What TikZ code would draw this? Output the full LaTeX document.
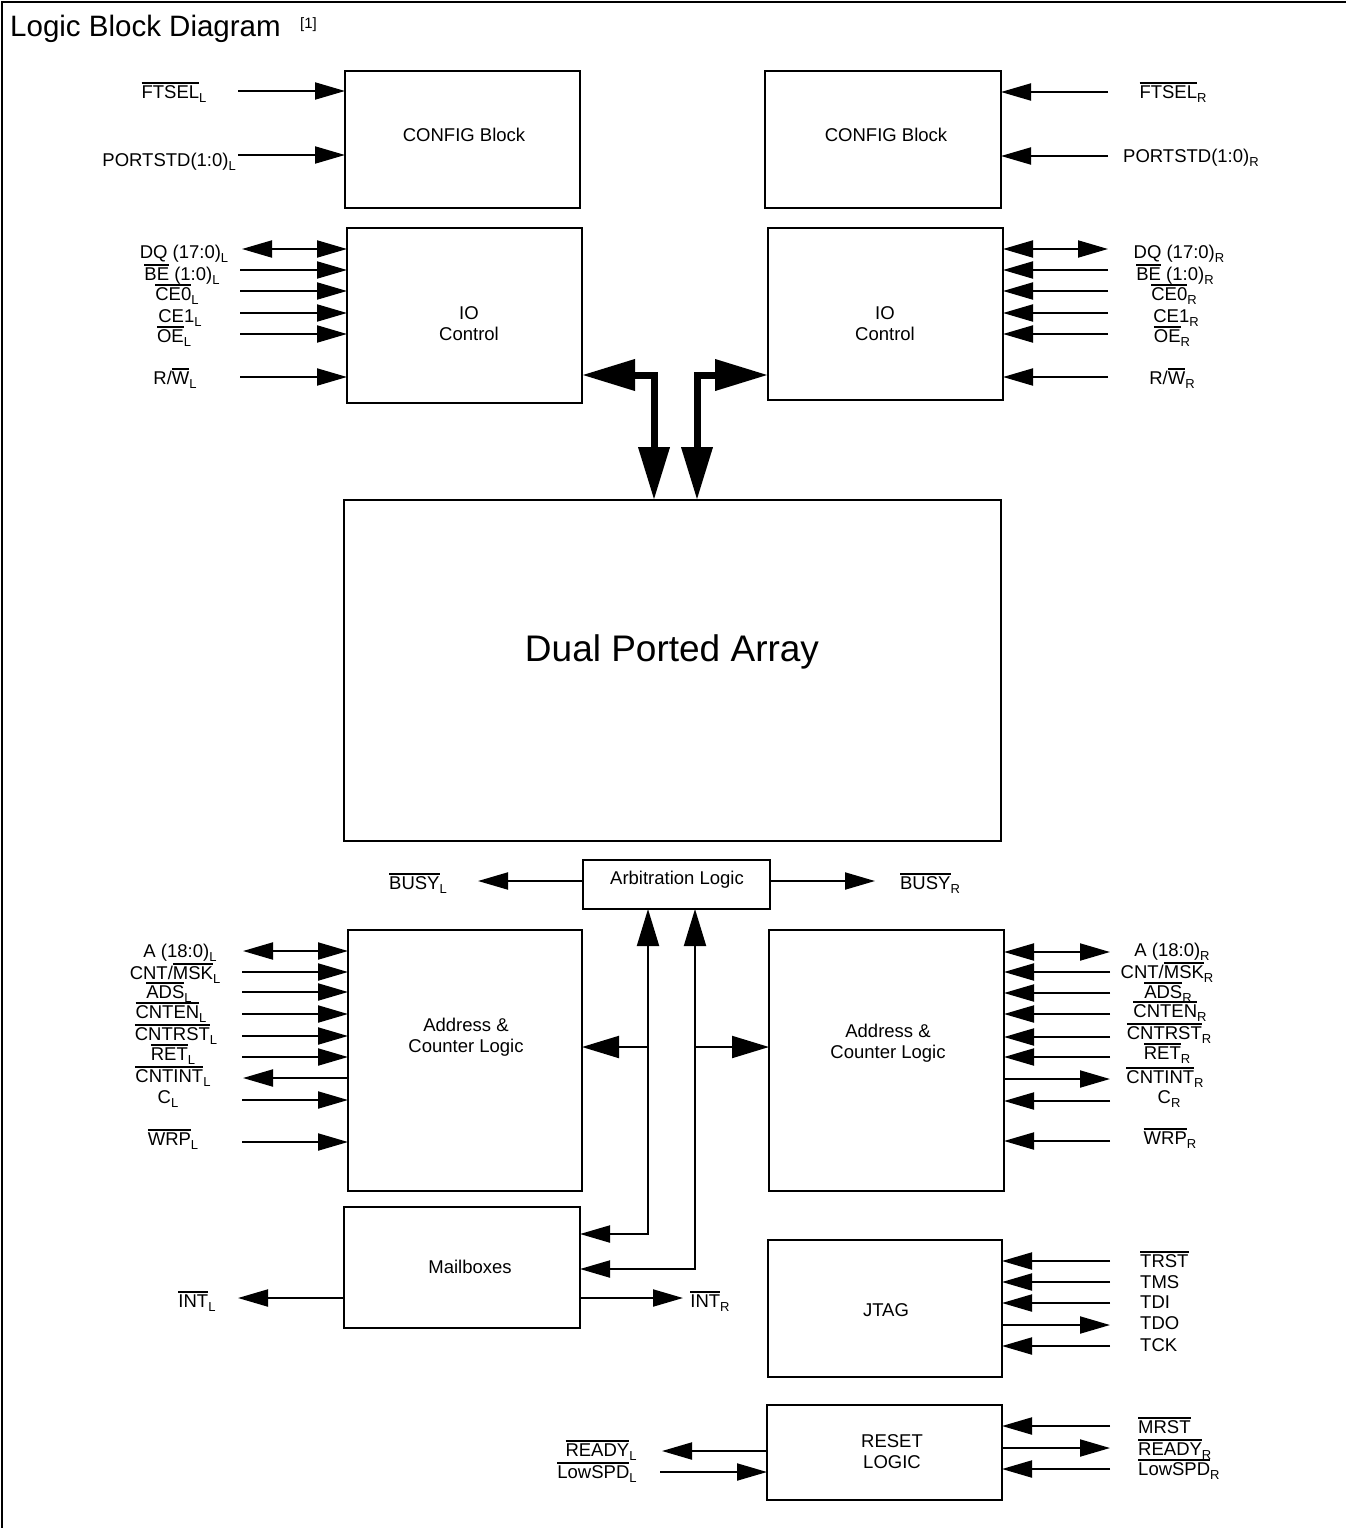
\documentclass[tikz,border=0pt]{standalone}
\usepackage{fontspec}
\setmainfont{Liberation Sans}
\usetikzlibrary{arrows.meta}
\newcommand\ob[1]{\vbox{\hrule height1.4pt\kern1.4pt\hbox{#1}}}
\newcommand\sbs[1]{\raisebox{-4pt}{\fontsize{13}{13}\selectfont #1}}
\tikzset{
  box/.style={draw, line width=2pt, inner sep=0pt, outer sep=0pt},
  lbl/.style={font=\fontsize{18.5}{21}\selectfont, inner sep=0pt, anchor=base},
  lblw/.style={lbl, anchor=base west},
  lble/.style={lbl, anchor=base east},
  btxt/.style={font=\fontsize{18.5}{21}\selectfont, inner sep=0pt, align=center},
  pin/.style={line width=2pt},
  hd/.tip={Triangle[length=30pt,width=17pt]},
  bighd/.tip={Triangle[length=53pt,width=30pt]},
  midhd/.tip={Triangle[length=37pt,width=22pt]},
  thickarrow/.style={line width=7pt, line join=miter, bighd-bighd},
}
\begin{document}
\begin{tikzpicture}[x=1pt,y=-1pt]
\useasboundingbox (0,0) rectangle (1346,1528);
% frame
\draw[line width=2pt] (2,1528) -- (2,2) -- (1346,2);
\node[font=\fontsize{29.5}{32}\selectfont, inner sep=0pt, anchor=base west] (title) at (10,37) {Logic Block Diagram};
\node[font=\fontsize{15}{16}\selectfont, inner sep=0pt, anchor=base west] (ref) at (300,29) {[1]};

% boxes
\node[box, minimum width=235pt, minimum height=137pt] (cfgL) at (462.5,139.5) {};
\node[box, minimum width=236pt, minimum height=137pt] (cfgR) at (883,139.5) {};
\node[box, minimum width=235pt, minimum height=175pt] (ioL) at (464.5,315.5) {};
\node[box, minimum width=235pt, minimum height=172pt] (ioR) at (885.5,314) {};
\node[box, minimum width=657pt, minimum height=341pt] (dpa) at (672.5,670.5) {};
\node[box, minimum width=187pt, minimum height=49pt] (arb) at (676.5,884.5) {};
\node[box, minimum width=234pt, minimum height=261pt] (adL) at (465,1060.5) {};
\node[box, minimum width=235pt, minimum height=261pt] (adR) at (886.5,1060.5) {};
\node[box, minimum width=236pt, minimum height=121pt] (mbx) at (462,1267.5) {};
\node[box, minimum width=234pt, minimum height=137pt] (jtag) at (885,1308.5) {};
\node[box, minimum width=235pt, minimum height=95pt] (rst) at (884.5,1452.5) {};

% box texts
\node[lbl] (tcfgL) at (464,141) {CONFIG Block};
\node[lbl] (tcfgR) at (886,141) {CONFIG Block};
\node[btxt] (tioL) at (469,324) {IO\\Control};
\node[btxt] (tioR) at (885,324) {IO\\Control};
\node[font=\fontsize{37}{40}\selectfont, inner sep=0pt, anchor=base] (tdpa) at (672,661) {Dual Ported Array};
\node[lbl] (tarb) at (677,884) {Arbitration Logic};
\node[btxt] (tadL) at (466,1037) {Address \&\\Counter Logic};
\node[btxt] (tadR) at (888,1043) {Address \&\\Counter Logic};
\node[lbl] (tmbx) at (470,1273) {Mailboxes};
\node[lbl] (tjtag) at (886,1316) {JTAG};
\node[btxt] (trst) at (892,1452) {RESET\\LOGIC};

% thick data paths
\coordinate (jL) at (654,375);
\coordinate (jR) at (697,375);
\draw[thickarrow] (jL -| ioL.east) -- (jL) -- (jL |- dpa.north);
\draw[thickarrow] (jR -| ioR.west) -- (jR) -- (jR |- dpa.north);

% arbitration / mailbox lines
\coordinate (vL) at (648,1234);
\coordinate (vR) at (695,1269);
\draw[pin, hd-midhd] (vL -| mbx.east) -- (vL) -- (vL |- arb.south);
\draw[pin, hd-midhd] (vR -| mbx.east) -- (vR) -- (vR |- arb.south);
\coordinate (bL) at (648,1047);
\coordinate (bR) at (695,1047);
\draw[pin, -midhd] (bL) -- (bL -| adL.east);
\draw[pin, -midhd] (bR) -- (bR -| adR.west);

% BUSY and INT
\coordinate (busyL) at (478,881);
\coordinate (busyR) at (875,881);
\draw[pin, -hd] (busyL -| arb.west) -- (busyL);
\draw[pin, -hd] (busyR -| arb.east) -- (busyR);
\coordinate (intL) at (238,1298);
\coordinate (intR) at (683,1298);
\draw[pin, -hd] (intL -| mbx.west) -- (intL);
\draw[pin, -hd] (intR -| mbx.east) -- (intR);
\node[lbl] (lbusyL) at (418,889) {\ob{BUSY}\sbs{L}};
\node[lbl] (lbusyR) at (930,889) {\ob{BUSY}\sbs{R}};
\node[lbl] (lintL) at (197,1307) {\ob{INT}\sbs{L}};
\node[lbl] (lintR) at (710,1307) {\ob{INT}\sbs{R}};

% left pins
\foreach \y in {91,155}{\coordinate (pcL\y) at (238,\y); \draw[pin,-hd] (pcL\y) -- (pcL\y -| cfgL.west);}
\foreach \y in {249}{\coordinate (piL\y) at (242,\y); \draw[pin,hd-hd] (piL\y) -- (piL\y -| ioL.west);}
\foreach \y in {270,291,313,334,377}{\coordinate (piL\y) at (240,\y); \draw[pin,-hd] (piL\y) -- (piL\y -| ioL.west);}
\foreach \y in {951}{\coordinate (paL\y) at (243,\y); \draw[pin,hd-hd] (paL\y) -- (paL\y -| adL.west);}
\foreach \y in {972,992,1014,1036,1057,1100,1142}{\coordinate (paL\y) at (242,\y); \draw[pin,-hd] (paL\y) -- (paL\y -| adL.west);}
\foreach \y in {1078}{\coordinate (paL\y) at (243,\y); \draw[pin,hd-] (paL\y) -- (paL\y -| adL.west);}
\coordinate (prL1) at (662,1451); \draw[pin,hd-] (prL1) -- (prL1 -| rst.west);
\coordinate (prL2) at (660,1472); \draw[pin,-hd] (prL2) -- (prL2 -| rst.west);

% right pins
\foreach \y in {92,156}{\coordinate (pcR\y) at (1108,\y); \draw[pin,-hd] (pcR\y) -- (pcR\y -| cfgR.east);}
\foreach \y in {249}{\coordinate (piR\y) at (1108,\y); \draw[pin,hd-hd] (piR\y) -- (piR\y -| ioR.east);}
\foreach \y in {270,291,313,334,377}{\coordinate (piR\y) at (1108,\y); \draw[pin,-hd] (piR\y) -- (piR\y -| ioR.east);}
\foreach \y in {952}{\coordinate (paR\y) at (1110,\y); \draw[pin,hd-hd] (paR\y) -- (paR\y -| adR.east);}
\foreach \y in {972,993,1014,1037,1057,1101,1141}{\coordinate (paR\y) at (1110,\y); \draw[pin,-hd] (paR\y) -- (paR\y -| adR.east);}
\foreach \y in {1079}{\coordinate (paR\y) at (1110,\y); \draw[pin,hd-] (paR\y) -- (paR\y -| adR.east);}
\foreach \y in {1261,1282,1303,1346}{\coordinate (pjR\y) at (1110,\y); \draw[pin,-hd] (pjR\y) -- (pjR\y -| jtag.east);}
\foreach \y in {1325}{\coordinate (pjR\y) at (1110,\y); \draw[pin,hd-] (pjR\y) -- (pjR\y -| jtag.east);}
\foreach \y in {1426,1469}{\coordinate (prR\y) at (1110,\y); \draw[pin,-hd] (prR\y) -- (prR\y -| rst.east);}
\foreach \y in {1448}{\coordinate (prR\y) at (1110,\y); \draw[pin,hd-] (prR\y) -- (prR\y -| rst.east);}

% left labels
\node[lbl] (lftselL) at (174,98) {\ob{FTSEL}\sbs{L}};
\node[lble] (lportL) at (236,166) {PORTSTD(1:0)\sbs{L}};
\node[lbl] (ldqL) at (184,258) {DQ (17:0)\sbs{L}};
\node[lbl] (lbeL) at (182,280) {\ob{BE} (1:0)\sbs{L}};
\node[lbl] (lce0L) at (177,300) {\ob{CE0}\sbs{L}};
\node[lbl] (lce1L) at (180,322) {CE1\sbs{L}};
\node[lbl] (loeL) at (174,342) {\ob{OE}\sbs{L}};
\node[lbl] (lrwL) at (175,384) {R/\ob{W}\sbs{L}};
\node[lbl] (laL) at (180,957) {A (18:0)\sbs{L}};
\node[lbl] (lcntmskL) at (175,979) {CNT/\ob{MSK}\sbs{L}};
\node[lbl] (ladsL) at (169,998) {\ob{ADS}\sbs{L}};
\node[lbl] (lcntenL) at (171,1018) {\ob{CNTEN}\sbs{L}};
\node[lbl] (lcntrstL) at (176,1040) {\ob{CNTRST}\sbs{L}};
\node[lbl] (lretL) at (173,1060) {\ob{RET}\sbs{L}};
\node[lbl] (lcntintL) at (173,1082) {\ob{CNTINT}\sbs{L}};
\node[lbl] (lcL) at (168,1103) {C\sbs{L}};
\node[lbl] (lwrpL) at (173,1145) {\ob{WRP}\sbs{L}};
\node[lbl] (lreadyL) at (601,1456) {\ob{READY}\sbs{L}};
\node[lbl] (llowL) at (597,1478) {\ob{LowSPD}\sbs{L}};

% right labels
\node[lbl] (lftselR) at (1173,98) {\ob{FTSEL}\sbs{R}};
\node[lblw] (lportR) at (1123,162) {PORTSTD(1:0)\sbs{R}};
\node[lbl] (ldqR) at (1179,258) {DQ (17:0)\sbs{R}};
\node[lbl] (lbeR) at (1175,280) {\ob{BE} (1:0)\sbs{R}};
\node[lbl] (lce0R) at (1174,300) {\ob{CE0}\sbs{R}};
\node[lbl] (lce1R) at (1176,322) {CE1\sbs{R}};
\node[lbl] (loeR) at (1172,342) {\ob{OE}\sbs{R}};
\node[lbl] (lrwR) at (1172,384) {R/\ob{W}\sbs{R}};
\node[lbl] (laR) at (1172,956) {A (18:0)\sbs{R}};
\node[lbl] (lcntmskR) at (1167,978) {CNT/\ob{MSK}\sbs{R}};
\node[lbl] (ladsR) at (1168,998) {\ob{ADS}\sbs{R}};
\node[lbl] (lcntenR) at (1170,1017) {\ob{CNTEN}\sbs{R}};
\node[lbl] (lcntrstR) at (1169,1039) {\ob{CNTRST}\sbs{R}};
\node[lbl] (lretR) at (1167,1059) {\ob{RET}\sbs{R}};
\node[lbl] (lcntintR) at (1165,1083) {\ob{CNTINT}\sbs{R}};
\node[lbl] (lcR) at (1169,1103) {C\sbs{R}};
\node[lbl] (lwrpR) at (1170,1144) {\ob{WRP}\sbs{R}};
\node[lblw] (ltrst) at (1140,1267) {\ob{TRST}};
\node[lblw] (ltms) at (1140,1288) {TMS};
\node[lblw] (ltdi) at (1140,1308) {TDI};
\node[lblw] (ltdo) at (1140,1329) {TDO};
\node[lblw] (ltck) at (1140,1351) {TCK};
\node[lblw] (lmrst) at (1138,1433) {\ob{MRST}};
\node[lblw] (lreadyR) at (1138,1455) {\ob{READY}\sbs{R}};
\node[lblw] (llowR) at (1138,1475) {\ob{LowSPD}\sbs{R}};
\end{tikzpicture}
\end{document}
